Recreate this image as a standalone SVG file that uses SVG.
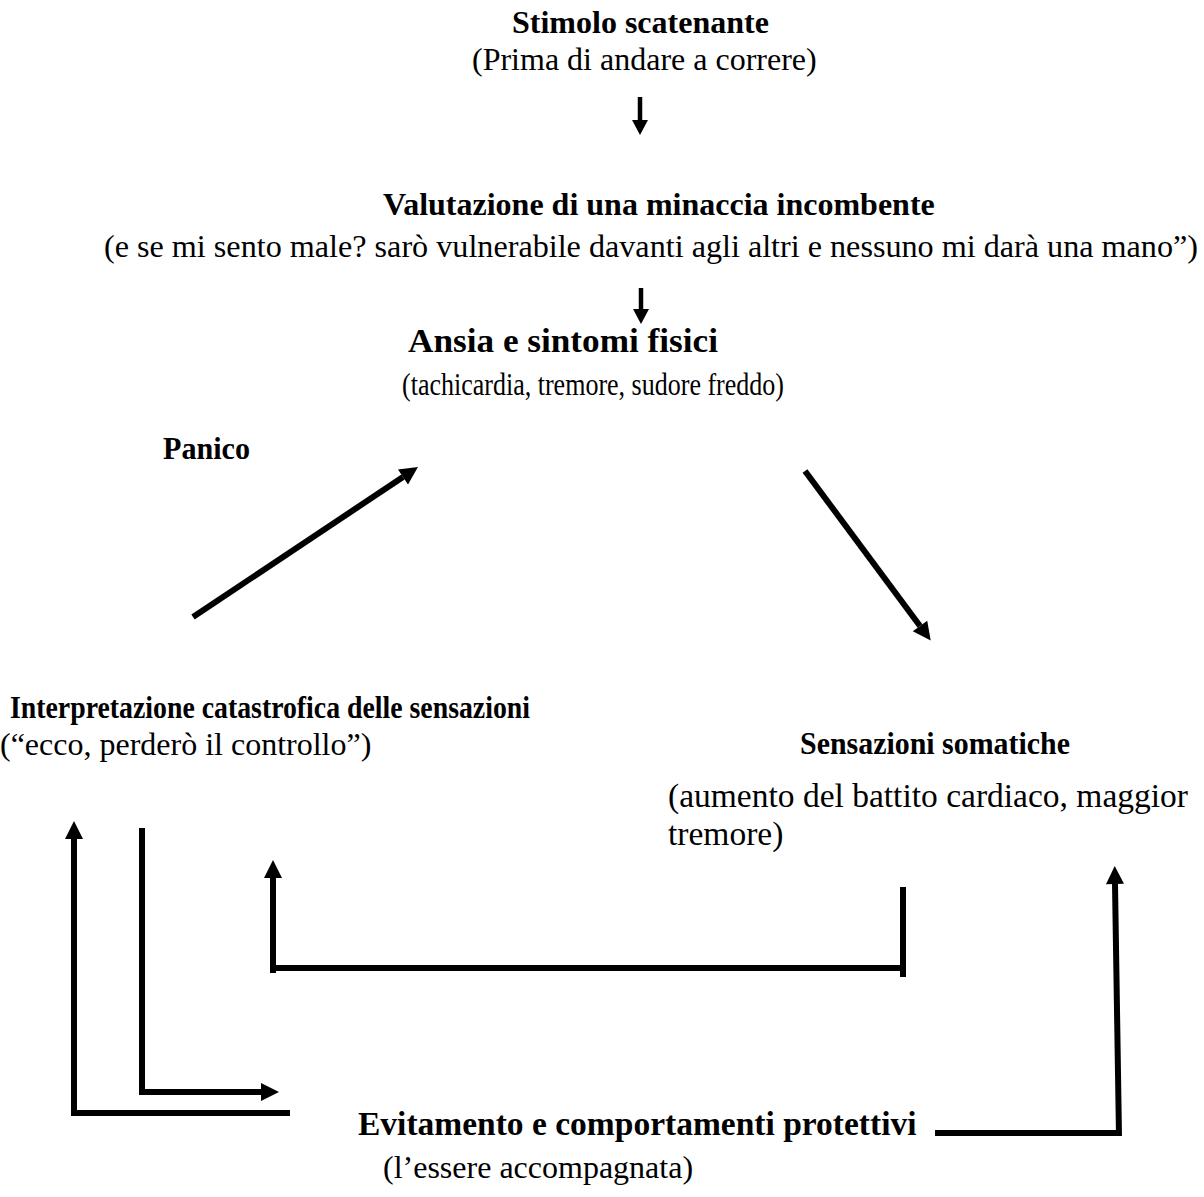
<svg xmlns="http://www.w3.org/2000/svg" width="1204" height="1197" viewBox="0 0 1204 1197">
<style>
text{font-family:"Liberation Serif","Times New Roman",serif;fill:#000;font-size:32px}
.b{font-weight:bold}
.ln{fill:none;stroke:#000;stroke-width:6;stroke-linecap:butt;stroke-linejoin:miter}
.thin{fill:none;stroke:#000;stroke-width:4.5}
</style>
<defs>
<marker id="hs" markerUnits="userSpaceOnUse" markerWidth="16" markerHeight="16" refX="0" refY="8" orient="auto" overflow="visible">
<path d="M0,0 L15,8 L0,16 Z" fill="#000"/>
</marker>
<marker id="hb" markerUnits="userSpaceOnUse" markerWidth="20" markerHeight="20" refX="0" refY="9" orient="auto" overflow="visible">
<path d="M0,0 L18,9 L0,18 Z" fill="#000"/>
</marker>
</defs>
<rect width="1204" height="1197" fill="#fff"/>
<g id="n-stimolo">
<text class="b" x="512" y="33">Stimolo scatenante</text>
<text x="472" y="70">(Prima di andare a correre)</text>
</g>
<g id="n-valutazione">
<text class="b" x="383" y="215">Valutazione di una minaccia incombente</text>
<text x="104" y="257" textLength="1094" lengthAdjust="spacingAndGlyphs">(e se mi sento male? sarò vulnerabile davanti agli altri e nessuno mi darà una mano”)</text>
</g>
<g id="n-ansia">
<text class="b" x="408" y="352" style="font-size:34px" textLength="310" lengthAdjust="spacingAndGlyphs">Ansia e sintomi fisici</text>
<text x="402" y="395" textLength="382" lengthAdjust="spacingAndGlyphs">(tachicardia, tremore, sudore freddo)</text>
</g>
<g id="n-panico">
<text class="b" x="163" y="459" style="font-size:31px" textLength="87" lengthAdjust="spacingAndGlyphs">Panico</text>
</g>
<g id="n-interpretazione">
<text class="b" x="10" y="718" textLength="520" lengthAdjust="spacingAndGlyphs">Interpretazione catastrofica delle sensazioni</text>
<text x="0" y="755">(“ecco, perderò il controllo”)</text>
</g>
<g id="n-sensazioni">
<text class="b" x="800" y="754" textLength="270" lengthAdjust="spacingAndGlyphs">Sensazioni somatiche</text>
<text x="668" y="807" style="font-size:33.5px">(aumento del battito cardiaco, maggior</text>
<text x="668" y="845" style="font-size:33.5px">tremore)</text>
</g>
<g id="n-evitamento">
<text class="b" x="358" y="1135" style="font-size:33.5px">Evitamento e comportamenti protettivi</text>
<text x="383" y="1178">(l’essere accompagnata)</text>
</g>
<g id="connectors">
<line class="thin" x1="640" y1="97" x2="640" y2="120" marker-end="url(#hs)"/>
<line class="thin" x1="641" y1="288" x2="641" y2="309" marker-end="url(#hs)"/>
<line class="ln" x1="193" y1="617" x2="403" y2="477" marker-end="url(#hb)"/>
<line class="ln" x1="805" y1="471" x2="920" y2="626" marker-end="url(#hb)"/>
<path class="ln" d="M290,1113 H74 V839" marker-end="url(#hb)"/>
<path class="ln" d="M142,828 V1092 H261" marker-end="url(#hb)"/>
<path class="ln" d="M273,973 V878" marker-end="url(#hb)"/>
<path class="ln" d="M270,968 H906"/>
<path class="ln" d="M903,887 V977"/>
<path class="ln" d="M935,1133 H1121"/>
<path class="ln" d="M1119,1136 L1115,884" marker-end="url(#hb)"/>
</g>
</svg>
